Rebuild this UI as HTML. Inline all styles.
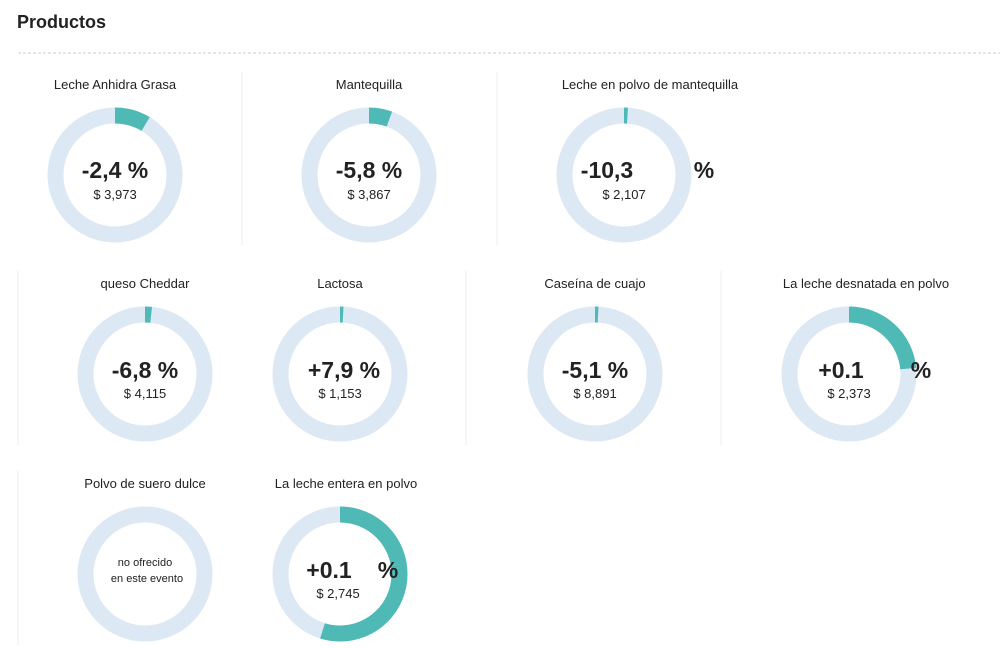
<!DOCTYPE html>
<html><head><meta charset="utf-8"><style>
body{margin:0;background:#fff;}
svg{display:block;font-family:"Liberation Sans",sans-serif;}
.t{font-size:13px;fill:#222;text-anchor:middle}
.p{font-size:23px;fill:#222;text-anchor:middle;font-weight:bold}
.d{font-size:13px;fill:#222;text-anchor:middle}
.bg{fill:none;stroke:#dde8f5;stroke-width:16}
.fg{fill:none;stroke:#4fb9b6;stroke-width:16}
.v{stroke:#eee;stroke-width:1}
</style></head><body>
<svg width="1005" height="648" viewBox="0 0 1005 648">
<text x="17" y="28" font-size="18" font-weight="bold" fill="#222">Productos</text>
<line x1="18" y1="53" x2="1000" y2="53" stroke="#ccc" stroke-dasharray="3,2"/>
<line class="v" x1="242" y1="72" x2="242" y2="245"/>
<line class="v" x1="497" y1="72" x2="497" y2="245"/>
<line class="v" x1="18" y1="271" x2="18" y2="445"/>
<line class="v" x1="466" y1="271" x2="466" y2="445"/>
<line class="v" x1="721" y1="271" x2="721" y2="445"/>
<line class="v" x1="18" y1="471" x2="18" y2="645"/>

<text class="t" x="115" y="89">Leche Anhidra Grasa</text>
<circle class="bg" cx="115" cy="175" r="59.5"/>
<circle class="fg" cx="115" cy="175" r="59.5" stroke-dasharray="32.2 400" transform="rotate(-90 115 175)"/>
<text class="p" x="115" y="178">-2,4 %</text><text class="d" x="115" y="199">$ 3,973</text>

<text class="t" x="369" y="89">Mantequilla</text>
<circle class="bg" cx="369" cy="175" r="59.5"/>
<circle class="fg" cx="369" cy="175" r="59.5" stroke-dasharray="20.8 400" transform="rotate(-90 369 175)"/>
<text class="p" x="369" y="178">-5,8 %</text><text class="d" x="369" y="199">$ 3,867</text>

<text class="t" x="650" y="89">Leche en polvo de mantequilla</text>
<circle class="bg" cx="624" cy="175" r="59.5"/>
<circle class="fg" cx="624" cy="175" r="59.5" stroke-dasharray="3.5 400" transform="rotate(-90 624 175)"/>
<text class="p" x="607" y="178">-10,3</text><text class="p" x="704" y="178">%</text><text class="d" x="624" y="199">$ 2,107</text>

<text class="t" x="145" y="288">queso Cheddar</text>
<circle class="bg" cx="145" cy="374" r="59.5"/>
<circle class="fg" cx="145" cy="374" r="59.5" stroke-dasharray="6.2 400" transform="rotate(-90 145 374)"/>
<text class="p" x="145" y="378">-6,8 %</text><text class="d" x="145" y="398">$ 4,115</text>

<text class="t" x="340" y="288">Lactosa</text>
<circle class="bg" cx="340" cy="374" r="59.5"/>
<circle class="fg" cx="340" cy="374" r="59.5" stroke-dasharray="3.1 400" transform="rotate(-90 340 374)"/>
<text class="p" x="344" y="378">+7,9 %</text><text class="d" x="340" y="398">$ 1,153</text>

<text class="t" x="595" y="288">Caseína de cuajo</text>
<circle class="bg" cx="595" cy="374" r="59.5"/>
<circle class="fg" cx="595" cy="374" r="59.5" stroke-dasharray="3.1 400" transform="rotate(-90 595 374)"/>
<text class="p" x="595" y="378">-5,1 %</text><text class="d" x="595" y="398">$ 8,891</text>

<text class="t" x="866" y="288">La leche desnatada en polvo</text>
<circle class="bg" cx="849" cy="374" r="59.5"/>
<circle class="fg" cx="849" cy="374" r="59.5" stroke-dasharray="88 400" transform="rotate(-90 849 374)"/>
<text class="p" x="841" y="378">+0.1</text><text class="p" x="921" y="378">%</text><text class="d" x="849" y="398">$ 2,373</text>

<text class="t" x="145" y="488">Polvo de suero dulce</text>
<circle class="bg" cx="145" cy="574" r="59.5"/>
<text x="145" y="566" font-size="11" fill="#222" text-anchor="middle">no ofrecido</text>
<text x="147" y="582" font-size="11" fill="#222" text-anchor="middle">en este evento</text>

<text class="t" x="346" y="488">La leche entera en polvo</text>
<circle class="bg" cx="340" cy="574" r="59.5"/>
<circle class="fg" cx="340" cy="574" r="59.5" stroke-dasharray="204.6 400" transform="rotate(-90 340 574)"/>
<text class="p" x="329" y="578">+0.1</text><text class="p" x="388" y="578">%</text><text class="d" x="338" y="598">$ 2,745</text>
</svg>
</body></html>
